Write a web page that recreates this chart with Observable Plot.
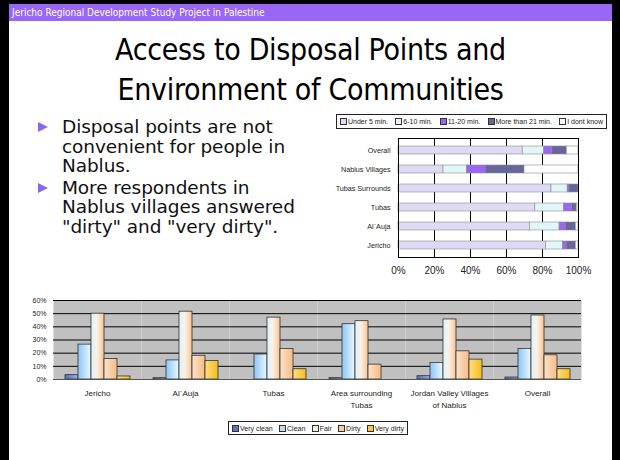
<!DOCTYPE html>
<html><head><meta charset="utf-8">
<script src="https://cdn.jsdelivr.net/npm/d3@7"></script>
<script src="https://cdn.jsdelivr.net/npm/@observablehq/plot@0.6"></script>
<style>
html,body{margin:0;padding:0;}
body{width:620px;height:460px;position:relative;background:#000;overflow:hidden;font-family:"DejaVu Sans Condensed","DejaVu Sans",sans-serif;}
#slide{position:absolute;left:9px;top:4px;width:603px;height:460px;background:#fff;}
#header{position:absolute;left:9px;top:4px;width:603px;height:17px;background:#9966f6;color:#fff;font-size:10px;line-height:17px;padding-left:3px;box-sizing:border-box;}
#title{position:absolute;left:9px;width:603px;top:30px;text-align:center;font-size:30px;line-height:40px;color:#000;letter-spacing:-0.3px;}
#bullets{position:absolute;left:36px;top:117px;font-family:"DejaVu Sans",sans-serif;font-size:18.5px;line-height:19.5px;color:#111;letter-spacing:-0.1px;}
.b{position:relative;padding-left:26px;margin-bottom:2px;}
.b::before{content:"";position:absolute;left:2px;top:5px;border-left:10px solid #8a66ee;border-top:5px solid transparent;border-bottom:5px solid transparent;}
.abs{position:absolute;}
.legbox{position:absolute;border:1px solid #222;background:#fff;box-sizing:border-box;overflow:hidden;display:flex;justify-content:space-between;align-items:center;padding:0 3px;font-family:"Liberation Sans",Arial,sans-serif;color:#222;white-space:nowrap;}
.item{display:flex;align-items:center;}
.sw{display:inline-block;width:5px;height:5px;border:1px solid #333;margin-right:1px;}
</style></head>
<body>
<svg width="0" height="0" style="position:absolute">
<defs>
<linearGradient id="gVC" x1="0" x2="1" y1="0" y2="0"><stop offset="0" stop-color="#4f6db8"/><stop offset="1" stop-color="#9cb6ec"/></linearGradient>
<linearGradient id="gC" x1="0" x2="1" y1="0" y2="0"><stop offset="0" stop-color="#8cc6f6"/><stop offset="1" stop-color="#eef8ff"/></linearGradient>
<linearGradient id="gF" x1="0" x2="1" y1="0" y2="0"><stop offset="0" stop-color="#d8f6fc"/><stop offset="0.45" stop-color="#fbf0e6"/><stop offset="1" stop-color="#f6c490"/></linearGradient>
<linearGradient id="gD" x1="0" x2="1" y1="0" y2="0"><stop offset="0" stop-color="#fde2c8"/><stop offset="1" stop-color="#f6bc88"/></linearGradient>
<linearGradient id="gVD" x1="0" x2="1" y1="0" y2="0"><stop offset="0" stop-color="#fde07a"/><stop offset="1" stop-color="#f7bb22"/></linearGradient>
</defs></svg>
<div id="slide"></div>
<div id="header">Jericho Regional Development Study Project in Palestine</div>
<div id="title">Access to Disposal Points and<br>Environment of Communities</div>
<div id="bullets">
<div class="b">Disposal points are not<br>convenient for people in<br>Nablus.</div>
<div class="b">More respondents in<br>Nablus villages answered<br>"dirty" and "very dirty".</div>
</div>
<div id="topLegend" class="legbox" style="left:336px;top:114px;width:271px;height:15px;font-size:7px;"></div>
<div id="topChart" class="abs" style="left:330px;top:133px;"></div>
<div id="botChart" class="abs" style="left:0px;top:290px;"></div>
<div id="botLegend" class="legbox" style="left:228px;top:421px;width:180px;height:14px;font-size:7px;"></div>
<script>
// ---- Access time chart (stacked, %) ----
const accessPlaces = ["Overall","Nablus Villages","Tubas Surrounds","Tubas","Al`Auja","Jericho"];
const accessTimes = ["Under 5 min.","6-10 min.","11-20 min.","More than 21 min.","I dont know"];
const under5 = [69, 25, 85, 76, 73, 82];
const min6to10 = [12, 13, 9, 16, 16.5, 9.5];
const min11to20 = [4.5, 10.5, 1, 4.5, 3.5, 2];
const over21 = [8, 21.5, 5, 2.5, 5.5, 5];
const dontKnow = [6.5, 30, 0, 1, 1.5, 1.5];
const accessTicks = [0, 20, 40, 60, 80, 100];
const accessColors = ["#dedaf4","#e0f7f6","#9a66f4","#666699","#ffffff"];

// ---- Environment chart (grouped, %) ----
const areas = ["Jericho","Al`Auja","Tubas","Area surrounding Tubas","Jordan Valley Villages of Nablus","Overall"];
const areaLabels = ["Jericho","Al`Auja","Tubas","Area surrounding\nTubas","Jordan Valley Villages\nof Nablus","Overall"];
const cleanliness = ["Very clean","Clean","Fair","Dirty","Very dirty"];
const veryClean = [3.3, 1, 0, 1, 2.5, 1.5];
const clean = [26.5, 14.5, 19, 42, 12.6, 23.2];
const fair = [50, 51.5, 47, 44.3, 45.6, 48.6];
const dirty = [15.6, 18, 23.2, 11.3, 21.4, 18.4];
const veryDirty = [2.3, 14, 7.8, 0, 15.1, 7.8];
const envTicks = [0, 10, 20, 30, 40, 50, 60];
const envFills = ["url(#gVC)","url(#gC)","url(#gF)","url(#gD)","url(#gVD)"];
const envSwatch = ["#5a78c0","#b8e0fc","#f4eee8","#f8cca0","#f8c840"];

const axisFont = "'Liberation Sans',Arial,sans-serif";

const accessSeries = [under5, min6to10, min11to20, over21, dontKnow];
const accessData = accessPlaces.flatMap((p, i) => accessTimes.map((t, j) => ({place: p, time: t, value: accessSeries[j][i]})));

const topChart = Plot.plot({
  width: 270, height: 144,
  marginLeft: 68, marginRight: 22, marginTop: 5, marginBottom: 20,
  style: {background: "transparent", fontFamily: axisFont, color: "#222"},
  x: {domain: [0, 100], label: null},
  y: {domain: accessPlaces, label: null, paddingInner: 0.58, paddingOuter: 0.29},
  color: {domain: accessTimes, range: accessColors},
  marks: [
    Plot.gridX({ticks: [20, 40, 60, 80], stroke: "#000", strokeOpacity: 1, strokeWidth: 1}),
    Plot.barX(accessData, {x: "value", y: "place", fill: "time", stroke: "#8a8a9a", strokeWidth: 0.6}),
    Plot.frame({stroke: "#000", strokeWidth: 1}),
    Plot.axisX({ticks: accessTicks, tickFormat: d => d + "%", tickSize: 0, tickPadding: 9, fontSize: 10, label: null}),
    Plot.axisY({tickSize: 0, tickPadding: 8, fontSize: 7.2, label: null})
  ]
});
document.getElementById("topChart").appendChild(topChart);

const envSeries = [veryClean, clean, fair, dirty, veryDirty];
const envData = areas.flatMap((a, i) => cleanliness.map((c, j) => ({area: a, level: c, value: envSeries[j][i]})));

const botChart = Plot.plot({
  width: 600, height: 130,
  marginLeft: 53, marginRight: 19, marginTop: 10, marginBottom: 41,
  style: {background: "transparent", fontFamily: axisFont, color: "#222"},
  fx: {domain: areas, padding: 0, label: null},
  x: {domain: cleanliness, paddingInner: 0, paddingOuter: 0.77, axis: null},
  y: {domain: [0, 60], label: null},
  color: {domain: cleanliness, range: envFills},
  marks: [
    Plot.frame({fill: "#c0c0c0", stroke: "none"}),
    Plot.gridY({ticks: envTicks, stroke: "#000", strokeOpacity: 1, strokeWidth: 1}),
    Plot.barY(envData, {fx: "area", x: "level", y: "value", fill: "level", stroke: "#333", strokeWidth: 0.8}),
    Plot.ruleY([0], {stroke: "#555", strokeWidth: 1}),
    Plot.axisFx({anchor: "bottom", tickSize: 0, tickPadding: 8, fontSize: 8, lineHeight: 1.5, label: null,
      tickFormat: d => areaLabels[areas.indexOf(d)]}),
    Plot.axisY({ticks: envTicks, tickFormat: d => d + "%", tickSize: 0, tickPadding: 7, fontSize: 7, label: null})
  ]
});
document.getElementById("botChart").appendChild(botChart);

// legends, built from the same category and colour arrays
function legend(id, names, colors) {
  const box = d3.select("#" + id);
  const items = box.selectAll("span.item").data(names).join("span").attr("class", "item");
  items.append("span").attr("class", "sw").style("background", (d, i) => colors[i]);
  items.append("span").text(d => d);
}
legend("topLegend", accessTimes, accessColors);
legend("botLegend", cleanliness, envSwatch);
</script>
</body></html>
